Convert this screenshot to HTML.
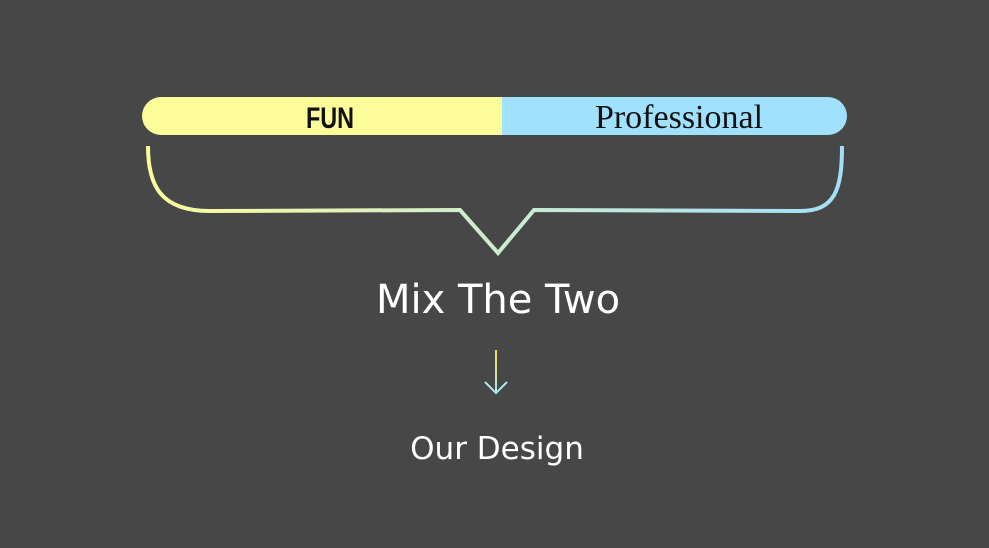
<!DOCTYPE html>
<html><head><meta charset="utf-8"><style>
html,body{margin:0;padding:0;background:#474747;}
body{width:989px;height:548px;overflow:hidden;position:relative;}
</style></head><body>
<svg width="989" height="548" viewBox="0 0 989 548" xmlns="http://www.w3.org/2000/svg" style="position:absolute;left:0;top:0">
<defs>
<linearGradient id="g" x1="142" y1="0" x2="847" y2="0" gradientUnits="userSpaceOnUse">
<stop offset="0" stop-color="#fdfc9b"/><stop offset="0.5" stop-color="#cdeccf"/><stop offset="1" stop-color="#9fe0fb"/>
</linearGradient>
<linearGradient id="ga" x1="0" y1="350" x2="0" y2="394" gradientUnits="userSpaceOnUse">
<stop offset="0" stop-color="#f6e040"/><stop offset="1" stop-color="#a9e6f5"/>
</linearGradient>
<clipPath id="c"><rect x="142" y="97" width="705" height="38" rx="19"/></clipPath>
</defs>
<g clip-path="url(#c)">
<rect x="142" y="97" width="360" height="38" fill="#fdfc9b"/>
<rect x="502" y="97" width="345" height="38" fill="#a0e1fd"/>
</g>
<text transform="translate(330,128) scale(0.78,1)" text-anchor="middle" font-family="Liberation Sans Narrow, Liberation Sans, sans-serif" font-weight="bold" font-size="30" fill="#111">FUN</text>
<text x="679" y="128" text-anchor="middle" font-family="Liberation Serif, serif" font-size="34" fill="#111">Professional</text>
<path d="M148 146 C148 185 160 211 210 211 L460 210 L498 253 L534 210 L800 211 C835 211 842 190 842 146" fill="none" stroke="url(#g)" stroke-width="4"/>
<text x="498" y="313" text-anchor="middle" font-family="DejaVu Sans, sans-serif" font-size="40" fill="#fff">Mix The Two</text>
<line x1="496" y1="350" x2="496" y2="392" stroke="url(#ga)" stroke-width="2"/>
<path d="M485 382 L496 393 L507 382" fill="none" stroke="#a9e6f5" stroke-width="2"/>
<text x="497" y="459" text-anchor="middle" font-family="DejaVu Sans, sans-serif" font-size="31" fill="#fff">Our Design</text>
</svg>
</body></html>
